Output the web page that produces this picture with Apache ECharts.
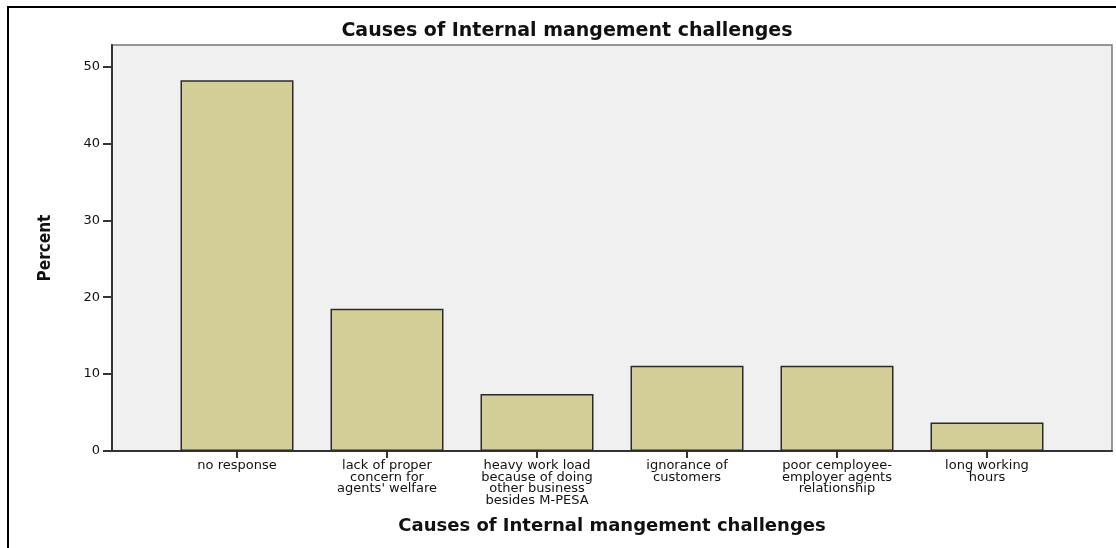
<!DOCTYPE html>
<html>
<head>
<meta charset="utf-8">
<script src="https://cdn.jsdelivr.net/npm/echarts@6/dist/echarts.min.js"></script>
<style>
  html, body { margin: 0; padding: 0; background: #fff; }
  #frame { position: absolute; left: 7px; top: 6px; width: 1109px; height: 542px;
           border-top: 2px solid #000; border-left: 2px solid #000; }
  #chart { position: absolute; left: 0; top: 0; width: 1116px; height: 548px; }
</style>
</head>
<body>
<div id="frame"></div>
<div id="chart"></div>
<script>
// categories along the x axis (line breaks as in the picture)
var categories = [
  "no response",
  "lack of proper\nconcern for\nagents' welfare",
  "heavy work load\nbecause of doing\nother business\nbesides M-PESA",
  "ignorance of\ncustomers",
  "poor cemployee-\nemployer agents\nrelationship",
  "long working\nhours"
];
// percent for each category
var percents = [48.2, 18.5, 7.4, 11.1, 11.1, 3.7];
// y axis tick labels
var yTicks = [0, 10, 20, 30, 40, 50];
var yMax = 52.8;

var chart = echarts.init(document.getElementById("chart"));
var option = {
  animation: false,
  title: {
    text: "Causes of Internal mangement challenges",
    left: 567,
    textAlign: "center",
    top: 22,
    padding: 0,
    textStyle: { fontFamily: "DejaVu Sans", fontWeight: "bold", fontSize: 19, color: "#111" }
  },
  grid: [
    // frame / background of the plot
    { left: 112, right: 4, top: 45, bottom: 97, show: true,
      backgroundColor: "#f0f0f0", borderColor: "#777", borderWidth: 1.5 },
    // bars, inset from the frame
    { left: 162, right: 54, top: 45, bottom: 97 }
  ],
  xAxis: [
    { type: "value", gridIndex: 0, min: 0, max: 1,
      axisLine: { show: true, lineStyle: { color: "#333", width: 2 } },
      axisTick: { show: false }, axisLabel: { show: false }, splitLine: { show: false } },
    { type: "category", gridIndex: 1, data: categories,
      name: "Causes of Internal mangement challenges",
      nameLocation: "middle", nameGap: 66,
      nameTextStyle: { fontFamily: "DejaVu Sans", fontWeight: "bold", fontSize: 18, color: "#111" },
      axisLine: { show: false },
      axisTick: { show: true, alignWithLabel: true, length: 7, lineStyle: { color: "#333", width: 2 } },
      axisLabel: { interval: 0, margin: 9, fontFamily: "DejaVu Sans", fontSize: 13,
                   lineHeight: 11.5, color: "#111" } }
  ],
  yAxis: [
    { type: "value", gridIndex: 0, min: 0, max: yMax,
      name: "Percent", nameLocation: "middle", nameRotate: 90, nameGap: 58,
      nameTextStyle: { fontFamily: "DejaVu Sans Condensed, Liberation Sans, sans-serif",
                       fontWeight: "bold", fontSize: 17, color: "#111" },
      axisLine: { show: true, lineStyle: { color: "#333", width: 2 } },
      axisTick: { show: true, length: 9, customValues: yTicks, lineStyle: { color: "#333", width: 2 } },
      axisLabel: { customValues: yTicks, margin: 12, fontFamily: "DejaVu Sans", fontSize: 13, color: "#111" },
      splitLine: { show: false } },
    { type: "value", gridIndex: 1, min: 0, max: yMax, show: false }
  ],
  series: [
    { type: "bar", xAxisIndex: 1, yAxisIndex: 1, data: percents, barWidth: 113,
      itemStyle: { color: "#d3ce97", borderColor: "#2b2b2b", borderWidth: 1.5 } }
  ]
};
chart.setOption(option);
window.addEventListener("resize", function () { chart.resize(); });
</script>
</body>
</html>
